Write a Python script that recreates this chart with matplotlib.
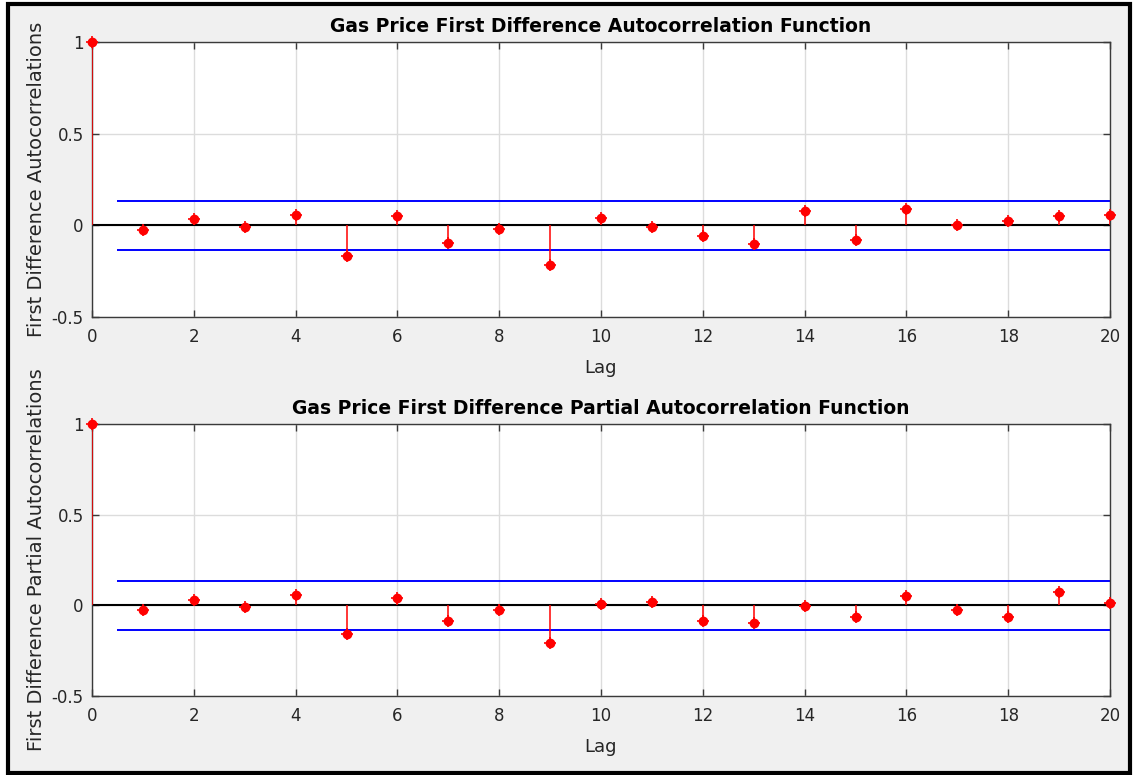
import matplotlib
matplotlib.use("Agg")
import matplotlib.pyplot as plt
from matplotlib.patches import Rectangle
import numpy as np

lags = list(range(0, 21))
acf_values = [1.0, -0.024, 0.032, -0.008, 0.056, -0.166, 0.049, -0.096, -0.018, -0.215, 0.041,
              -0.008, -0.056, -0.103, 0.079, -0.080, 0.087, 0.0, 0.023, 0.049, 0.057]
pacf_values = [1.0, -0.024, 0.031, -0.009, 0.056, -0.160, 0.038, -0.089, -0.024, -0.207, 0.007,
               0.016, -0.089, -0.096, -0.003, -0.065, 0.049, -0.024, -0.065, 0.071, 0.015]
acf_bound = 0.132
pacf_bound = 0.135
bound_start = 0.5

titles = ["Gas Price First Difference Autocorrelation Function",
          "Gas Price First Difference Partial Autocorrelation Function"]
ylabels = ["First Difference Autocorrelations",
           "First Difference Partial Autocorrelations"]
xlabel = "Lag"
xticks = list(range(0, 21, 2))
yticks = [-0.5, 0, 0.5, 1]
yticklabels = ["-0.5", "0", "0.5", "1"]

plt.rcParams['font.family'] = ['DejaVu Sans']

W, H = 1136, 775
fig = plt.figure(figsize=(W / 100, H / 100), dpi=100, facecolor='white')

# grey window background with black frame
fig.patches.append(Rectangle((8 / W, 1 - 773 / H), (1130 - 8) / W, (773 - 4) / H,
                             transform=fig.transFigure, facecolor='#f0f0f0',
                             edgecolor='black', linewidth=3, zorder=-10))

txt = '#262626'
axes_px = [(92, 42, 1110, 317), (92, 424, 1110, 696)]
series = [(acf_values, acf_bound), (pacf_values, pacf_bound)]

for i, ((x0, y0, x1, y1), (vals, bnd)) in enumerate(zip(axes_px, series)):
    ax = fig.add_axes([x0 / W, 1 - y1 / H, (x1 - x0) / W, (y1 - y0) / H])
    ax.set_facecolor('white')
    ax.set_xlim(0, 20)
    ax.set_ylim(-0.5, 1)
    ax.set_xticks(xticks)
    ax.set_yticks(yticks)
    ax.set_yticklabels(yticklabels)
    ax.grid(True, color='#dcdcdc', linewidth=1.0)
    ax.set_axisbelow(True)
    for s in ax.spines.values():
        s.set_color('#3a3a3a')
        s.set_linewidth(1.0)
    ax.tick_params(direction='in', length=5, width=1, color='#3a3a3a',
                   top=True, right=True, labelsize=12, labelcolor=txt)
    ax.tick_params(axis='x', pad=8)
    ax.tick_params(axis='y', pad=6)

    ax.vlines(lags, 0, vals, colors='red', linewidth=1.1, zorder=3)
    ax.plot(lags, vals, linestyle='none', marker='o', markersize=6,
            color='red', zorder=4, clip_on=False)
    ax.plot(lags, vals, linestyle='none', marker='+', markersize=8, markeredgewidth=1.2,
            color='red', zorder=4, clip_on=False)
    ax.axhline(0, color='black', linewidth=1.5, zorder=2)
    ax.hlines([bnd, -bnd], bound_start, 20, colors='blue', linewidth=1.4, zorder=2)

    ax.set_title(titles[i], fontsize=13.5, fontweight='bold', color='black', pad=7)
    ax.set_xlabel(xlabel, fontsize=13, color=txt, labelpad=9)
    ax.set_ylabel(ylabels[i], fontsize=14, color=txt, labelpad=4)

fig.savefig('out.png', dpi=100, facecolor=fig.get_facecolor())
